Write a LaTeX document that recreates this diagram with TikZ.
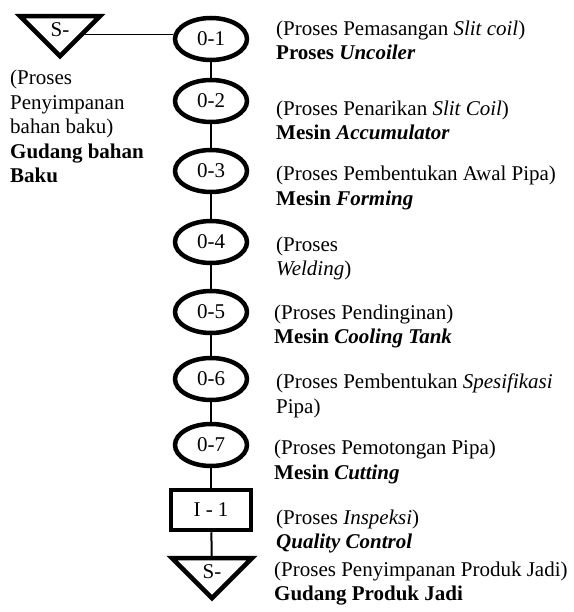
\documentclass[tikz,border=0pt]{standalone}
\usepackage{fontspec}
\setmainfont{Liberation Serif}
\usetikzlibrary{positioning,shapes.geometric}
\tikzset{
    opnode/.style={draw,ellipse,line width=4.5pt,minimum width=72pt,
      minimum height=42pt,inner sep=0pt},
    checknode/.style={draw,rectangle,line width=4.5pt,minimum width=80pt,
      minimum height=40pt,inner sep=0pt},
    storenode/.style={draw,fill=white,isosceles triangle,shape border rotate=270,
      isosceles triangle apex angle=90,minimum size=40pt,inner sep=0pt,
      line width=4.5pt,line join=miter},
    desc/.style={anchor=west,align=left,inner sep=0pt},
    link/.style={line width=2pt},
    thinlink/.style={line width=1.2pt}
}

\begin{document}
\begin{tikzpicture}[x=1pt,y=-1pt,font=\fontsize{21}{24.5}\selectfont]
  \useasboundingbox (0,0) rectangle (573,612);
  \node[storenode] (s1) at (60,30){S-};
  \foreach \yy [count=\i] in {39,101,171,242,312,379,445}{
    \node[opnode] (o\i) at (211,\yy){0-\i};}
  \node[checknode] (i1) at (211,510){I - 1};
  \node[storenode] (s2) at (212,572){S-};
  \draw[thinlink] (s1.-10) -- (s1.-10 -| o1.west);
  \foreach \a/\b in {o1/o2,o2/o3,o3/o4,o4/o5,o5/o6,o6/o7,o7/i1,i1/s2}
    \draw[link] (\a) -- (\b);
  % keterangan
  \node[desc] (k0) at (10,126.5){(Proses\\Penyimpanan\\bahan baku)\\
    \textbf{Gudang bahan}\\\textbf{Baku}};
  \node[desc] (k1) at (276,40.5){(Proses Pemasangan \textit{Slit coil})\\
    \textbf{Proses \textit{Uncoiler}}};
  \node[desc] (k2) at (276,120.5){(Proses Penarikan \textit{Slit Coil})\\
    \textbf{Mesin \textit{Accumulator}}};
  \node[desc] (k3) at (276,188){(Proses Pembentukan Awal Pipa)\\
    \textbf{Mesin \textit{Forming}}};
  \node[desc] (k4) at (276,258.5){(Proses\\\textit{Welding})};
  \node[desc] (k5) at (274,326.5){(Proses Pendinginan)\\
    \textbf{Mesin \textit{Cooling Tank}}};
  \node[desc] (k6) at (276,396){(Proses Pembentukan \textit{Spesifikasi}\\Pipa)};
  \node[desc] (k7) at (274,462){(Proses Pemotongan Pipa)\\
    \textbf{Mesin \textit{Cutting}}};
  \node[desc] (k8) at (276,531.5){(Proses \textit{Inspeksi})\\
    \textbf{\textit{Quality Control}}};
  \node[desc] (k9) at (274,583.5){(Proses Penyimpanan Produk Jadi)\\
    \textbf{Gudang Produk Jadi}};
\end{tikzpicture}
\end{document}
